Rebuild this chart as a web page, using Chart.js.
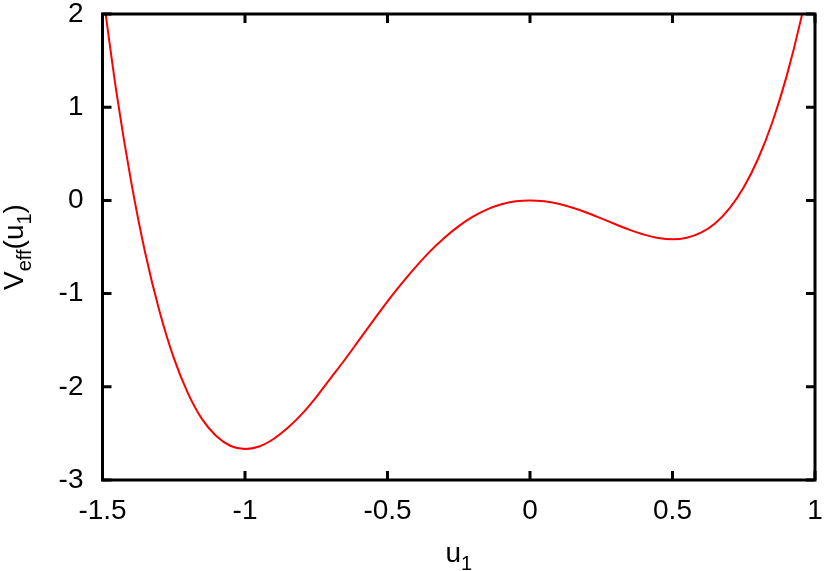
<!DOCTYPE html>
<html>
<head>
<meta charset="utf-8">
<script src="https://cdn.jsdelivr.net/npm/chart.js@4"></script>
<style>
  html, body { margin: 0; padding: 0; background: #fff; }
  #wrap { width: 830px; height: 571px; }
</style>
</head>
<body>
<div id="wrap"><canvas id="veff" width="830" height="571"></canvas></div>
<script>
// values
var uValues = [-1.5, -1.45, -1.4, -1.35, -1.3, -1.25, -1.2, -1.15, -1.1, -1.05,
  -1, -0.95, -0.9, -0.85, -0.8, -0.75, -0.7, -0.65, -0.6, -0.55,
  -0.5, -0.45, -0.4, -0.35, -0.3, -0.25, -0.2, -0.15, -0.1, -0.05,
  0, 0.05, 0.1, 0.15, 0.2, 0.25, 0.3, 0.35, 0.4, 0.45,
  0.5, 0.55, 0.6, 0.65, 0.7, 0.75, 0.8, 0.85, 0.9, 0.95, 1];
var veffValues = [2.25, 1.14, 0.21, -0.565, -1.19, -1.69, -2.07, -2.35, -2.53, -2.635,
  -2.667, -2.64, -2.56, -2.44, -2.29, -2.11, -1.91, -1.71, -1.50, -1.29,
  -1.083, -0.89, -0.71, -0.544, -0.40, -0.276, -0.175, -0.097, -0.042, -0.01,
  0, -0.01, -0.037, -0.079, -0.132, -0.193, -0.256, -0.316, -0.367, -0.403,
  -0.417, -0.40, -0.346, -0.244, -0.085, 0.141, 0.444, 0.836, 1.328, 1.934, 2.667];
var xTicks = [-1.5, -1, -0.5, 0, 0.5, 1];
var yTicks = [-3, -2, -1, 0, 1, 2];

var FONT = '"Liberation Sans", Arial, sans-serif';

var points = uValues.map(function (u, i) { return { x: u, y: veffValues[i] }; });

// gnuplot style frame with inward ticks on all sides, plus axis titles with subscripts
var framePlugin = {
  id: 'frame',
  afterDraw: function (chart) {
    var c = chart.ctx, a = chart.chartArea;
    var xs = chart.scales.x, ys = chart.scales.y;
    var tl = 9;
    c.save();
    c.strokeStyle = '#000';
    c.lineWidth = 3;
    c.strokeRect(a.left, a.top, a.right - a.left, a.bottom - a.top);
    c.beginPath();
    xTicks.forEach(function (v) {
      var px = xs.getPixelForValue(v);
      c.moveTo(px, a.bottom); c.lineTo(px, a.bottom - tl);
      c.moveTo(px, a.top); c.lineTo(px, a.top + tl);
    });
    yTicks.forEach(function (v) {
      var py = ys.getPixelForValue(v);
      c.moveTo(a.left, py); c.lineTo(a.left + tl, py);
      c.moveTo(a.right, py); c.lineTo(a.right - tl, py);
    });
    c.stroke();

    c.fillStyle = '#000';
    c.textBaseline = 'alphabetic';
    c.textAlign = 'left';
    // x title: u_1
    var cx = (a.left + a.right) / 2;
    c.font = '28px ' + FONT;
    var wu = c.measureText('u').width;
    c.font = '20px ' + FONT;
    var w1 = c.measureText('1').width;
    var sx = cx - (wu + w1) / 2;
    c.font = '28px ' + FONT;
    c.fillText('u', sx, 562);
    c.font = '20px ' + FONT;
    c.fillText('1', sx + wu, 570);

    // y title: V_eff(u_1), rotated
    c.translate(23, (a.top + a.bottom) / 2);
    c.rotate(-Math.PI / 2);
    var parts = [['V', 28, 0], ['eff', 20, 8], ['(u', 28, 0], ['1', 20, 8], [')', 28, 0]];
    var total = 0;
    parts.forEach(function (p) { c.font = p[1] + 'px ' + FONT; total += c.measureText(p[0]).width; });
    var x0 = -total / 2;
    parts.forEach(function (p) {
      c.font = p[1] + 'px ' + FONT;
      c.fillText(p[0], x0, p[2]);
      x0 += c.measureText(p[0]).width;
    });
    c.restore();
  }
};

var ctx = document.getElementById('veff').getContext('2d');
var myChart = new Chart(ctx, {
  type: 'line',
  data: {
    datasets: [{
      label: 'Veff',
      data: points,
      borderColor: 'rgb(255, 0, 0)',
      borderWidth: 2,
      pointRadius: 0,
      fill: false,
      cubicInterpolationMode: 'monotone',
      clip: 0
    }]
  },
  options: {
    responsive: false,
    animation: false,
    layout: { padding: { top: 14, right: 15, left: 0, bottom: 0 } },
    plugins: {
      legend: { display: false },
      tooltip: { enabled: false }
    },
    scales: {
      x: {
        type: 'linear',
        min: -1.5,
        max: 1,
        afterBuildTicks: function (s) { s.ticks = xTicks.map(function (v) { return { value: v }; }); },
        afterFit: function (s) { s.height = 91; s.paddingLeft = 0; s.paddingRight = 0; },
        grid: { display: false, drawTicks: false },
        border: { display: false },
        ticks: {
          color: '#000',
          padding: 14,
          maxRotation: 0,
          font: { family: FONT, size: 28 },
          callback: function (v) { return String(v); }
        }
      },
      y: {
        type: 'linear',
        min: -3,
        max: 2,
        afterBuildTicks: function (s) { s.ticks = yTicks.map(function (v) { return { value: v }; }); },
        afterFit: function (s) { s.width = 102.5; s.paddingTop = 0; s.paddingBottom = 0; },
        grid: { display: false, drawTicks: false },
        border: { display: false },
        ticks: {
          color: '#000',
          padding: 19,
          font: { family: FONT, size: 28 },
          callback: function (v) { return String(v); }
        }
      }
    }
  },
  plugins: [framePlugin]
});
</script>
</body>
</html>
